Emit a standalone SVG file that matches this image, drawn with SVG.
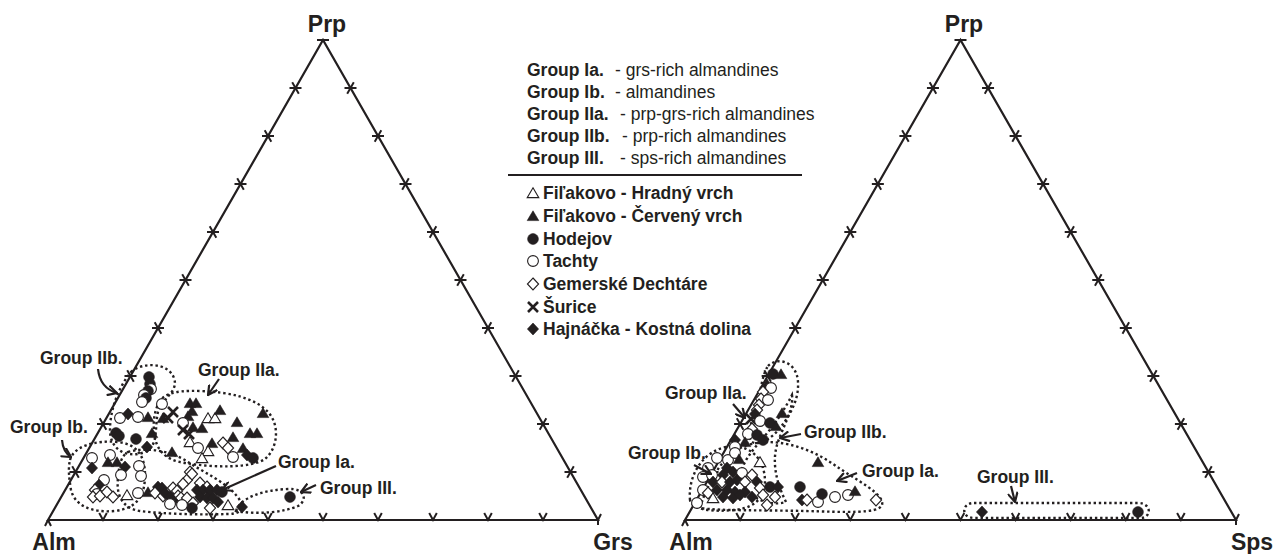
<svg xmlns="http://www.w3.org/2000/svg" width="1277" height="554" viewBox="0 0 1277 554">
<style>
text{font-family:"Liberation Sans",Arial,sans-serif;fill:#231f20}
.b{font-weight:bold;font-size:17.5px}
.r{font-size:17.5px}
.ax{font-weight:bold;font-size:23px;text-anchor:middle}
.edge{stroke:#231f20;stroke-width:2.2;fill:none;stroke-linejoin:miter}
.tk{stroke:#231f20;stroke-width:2;fill:none}
.loop{stroke:#231f20;stroke-width:2.4;fill:none;stroke-dasharray:2.4 2.8}
.arr{stroke:#231f20;stroke-width:2.2;fill:none;marker-end:url(#ah)}
.o{fill:#fff;stroke:#231f20;stroke-width:1.1}
.f{fill:#231f20;stroke:#231f20;stroke-width:0.6}
.x{stroke:#231f20;stroke-width:2.6;fill:none}
</style>
<defs>
<marker id="ah" viewBox="0 0 10 10" refX="9" refY="5" markerWidth="11" markerHeight="11" markerUnits="userSpaceOnUse" orient="auto">
<path d="M0.5,0.5 L9,5 L0.5,9.5" fill="none" stroke="#231f20" stroke-width="2"/>
</marker>
<path id="tkL" class="tk" d="M-6,0 H6 M-3.3,-5.7 L3.3,5.7"/>
<path id="tkR" class="tk" d="M-6,0 H6 M3.3,-5.7 L-3.3,5.7"/>
<path id="tkB" class="tk" d="M-3.8,-7 L0,0 L3.8,-7"/>
<path id="tO" class="o" d="M0,-5.2 L5.8,4.6 L-5.8,4.6 Z"/>
<path id="tF" class="f" d="M0,-5.2 L5.8,4.6 L-5.8,4.6 Z"/>
<circle id="cO" class="o" r="5.4"/>
<circle id="cF" class="f" r="5.4"/>
<path id="dO" class="o" d="M0,-6 L5.6,0 L0,6 L-5.6,0 Z"/>
<path id="dF" class="f" d="M0,-6 L5.6,0 L0,6 L-5.6,0 Z"/>
<path id="xX" class="x" d="M-5,-5 L5,5 M5,-5 L-5,5"/>
</defs>

<g id="triangle-left">
<path class="edge" d="M48,520 L323,40 L598,520 Z"/>
<path class="tk" d="M317,40 H329 M48,520 L45,526 M48,520 L51,526 M598,520 L601,514 M598,520 V525"/>
<use href="#tkL" x="75.5" y="472"/><use href="#tkL" x="103" y="424"/><use href="#tkL" x="130.5" y="376"/><use href="#tkL" x="158" y="328"/><use href="#tkL" x="185.5" y="280"/><use href="#tkL" x="213" y="232"/><use href="#tkL" x="240.5" y="184"/><use href="#tkL" x="268" y="136"/><use href="#tkL" x="295.5" y="88"/>
<use href="#tkR" x="570.5" y="472"/><use href="#tkR" x="543" y="424"/><use href="#tkR" x="515.5" y="376"/><use href="#tkR" x="488" y="328"/><use href="#tkR" x="460.5" y="280"/><use href="#tkR" x="433" y="232"/><use href="#tkR" x="405.5" y="184"/><use href="#tkR" x="378" y="136"/><use href="#tkR" x="350.5" y="88"/>
<use href="#tkB" x="103" y="520"/><use href="#tkB" x="158" y="520"/><use href="#tkB" x="213" y="520"/><use href="#tkB" x="268" y="520"/><use href="#tkB" x="323" y="520"/><use href="#tkB" x="378" y="520"/><use href="#tkB" x="433" y="520"/><use href="#tkB" x="488" y="520"/><use href="#tkB" x="543" y="520"/>
<text class="ax" x="327" y="32">Prp</text>
<text class="ax" x="54" y="550">Alm</text>
<text class="ax" x="613" y="550">Grs</text>
</g>

<g id="triangle-right">
<path class="edge" d="M685,520 L960.5,40 L1236,520 Z"/>
<path class="tk" d="M954.5,40 H966.5 M685,520 L682,526 M685,520 L688,526 M1236,520 L1239,514 M1236,520 V525"/>
<use href="#tkL" x="712.55" y="472"/><use href="#tkL" x="740.1" y="424"/><use href="#tkL" x="767.65" y="376"/><use href="#tkL" x="795.2" y="328"/><use href="#tkL" x="822.75" y="280"/><use href="#tkL" x="850.3" y="232"/><use href="#tkL" x="877.85" y="184"/><use href="#tkL" x="905.4" y="136"/><use href="#tkL" x="932.95" y="88"/>
<use href="#tkR" x="1208.45" y="472"/><use href="#tkR" x="1180.9" y="424"/><use href="#tkR" x="1153.35" y="376"/><use href="#tkR" x="1125.8" y="328"/><use href="#tkR" x="1098.25" y="280"/><use href="#tkR" x="1070.7" y="232"/><use href="#tkR" x="1043.15" y="184"/><use href="#tkR" x="1015.6" y="136"/><use href="#tkR" x="988.05" y="88"/>
<use href="#tkB" x="740.1" y="520"/><use href="#tkB" x="795.2" y="520"/><use href="#tkB" x="850.3" y="520"/><use href="#tkB" x="905.4" y="520"/><use href="#tkB" x="960.5" y="520"/><use href="#tkB" x="1015.6" y="520"/><use href="#tkB" x="1070.7" y="520"/><use href="#tkB" x="1125.8" y="520"/><use href="#tkB" x="1180.9" y="520"/>
<text class="ax" x="964" y="32">Prp</text>
<text class="ax" x="691" y="550">Alm</text>
<text class="ax" x="1252" y="550">Sps</text>
</g>

<g id="legend">
<text x="527" y="76"><tspan class="b">Group Ia.</tspan></text><text class="r" x="615" y="76">- grs-rich almandines</text>
<text x="527" y="98"><tspan class="b">Group Ib.</tspan></text><text class="r" x="615" y="98">- almandines</text>
<text x="527" y="120"><tspan class="b">Group IIa.</tspan></text><text class="r" x="620" y="120">- prp-grs-rich almandines</text>
<text x="527" y="142"><tspan class="b">Group IIb.</tspan></text><text class="r" x="622" y="142">- prp-rich almandines</text>
<text x="527" y="164"><tspan class="b">Group III.</tspan></text><text class="r" x="620" y="164">- sps-rich almandines</text>
<line x1="508" y1="175" x2="802" y2="175" stroke="#231f20" stroke-width="2.2"/>
<use href="#tO" x="533" y="193"/><text class="b" x="543" y="199">Fiľakovo - Hradný vrch</text>
<use href="#tF" x="533" y="216"/><text class="b" x="543" y="222">Fiľakovo - Červený vrch</text>
<use href="#cF" x="533" y="239"/><text class="b" x="543" y="245">Hodejov</text>
<use href="#cO" x="533" y="261"/><text class="b" x="543" y="267">Tachty</text>
<use href="#dO" x="533" y="284"/><text class="b" x="543" y="290">Gemerské Dechtáre</text>
<use href="#xX" x="533" y="307"/><text class="b" x="543" y="313">Šurice</text>
<use href="#dF" x="533" y="329"/><text class="b" x="543" y="335">Hajnáčka - Kostná dolina</text>
</g>

<g id="loops-left">
<path class="loop" d="M131,372 C142,362 168,362 174,378 C179,392 162,398 158,412 C154,428 160,448 142,453 C124,458 110,448 110,430 C110,410 118,388 131,372 Z"/>
<path class="loop" d="M157,407 C160,395 172,390 200,391 C230,392 255,398 268,412 C280,425 278,448 265,459 C252,468 215,468 185,463 C165,460 155,450 154,430 C153,420 155,412 157,407 Z"/>
<path class="loop" d="M70,460 C74,446 95,440 118,442 C136,444 145,455 145,475 C145,495 138,508 115,511 C92,513 75,506 71,490 C69,478 68,468 70,460 Z"/>
<path class="loop" d="M128,452 C145,447 170,450 188,462 C205,473 225,482 236,495 C245,505 244,514 228,514 C200,515 165,514 140,511 C122,508 116,495 118,478 C119,465 121,456 128,452 Z"/>
<path class="loop" d="M236,511 C240,498 262,490 288,489 C305,488 308,500 298,506 C285,512 258,515 236,511 Z"/>
</g>

<g id="points-left">
<use href="#cF" x="149" y="377"/><use href="#cF" x="150" y="384"/><use href="#cO" x="151" y="389"/><use href="#cF" x="148" y="391"/><use href="#cO" x="144" y="395"/><use href="#cF" x="146" y="398"/><use href="#cO" x="142" y="402"/>
<use href="#cO" x="120" y="418"/><use href="#dF" x="128" y="414"/><use href="#cO" x="138" y="417"/><use href="#tF" x="148" y="417"/>
<use href="#cF" x="116" y="433"/><use href="#cF" x="119" y="436"/><use href="#cF" x="136" y="439"/>
<use href="#dF" x="147" y="447"/><use href="#tF" x="152" y="433"/>
<use href="#cO" x="162" y="404"/><use href="#tF" x="163" y="418"/><use href="#xX" x="173" y="412"/><use href="#xX" x="168" y="418"/>
<use href="#tF" x="190" y="403"/><use href="#tF" x="196" y="403"/><use href="#tF" x="192" y="411"/><use href="#tF" x="188" y="416"/>
<use href="#cO" x="183" y="423"/><use href="#tF" x="193" y="427"/><use href="#xX" x="183" y="430"/><use href="#xX" x="189" y="434"/>
<use href="#tO" x="208" y="418"/><use href="#tO" x="215" y="418"/><use href="#tF" x="220" y="410"/><use href="#tF" x="202" y="428"/>
<use href="#tF" x="237" y="422"/><use href="#tF" x="233" y="437"/><use href="#tF" x="250" y="433"/><use href="#tF" x="257" y="433"/><use href="#tF" x="263" y="413"/>
<use href="#tO" x="190" y="442"/><use href="#tF" x="212" y="443"/><use href="#cO" x="198" y="448"/><use href="#tO" x="208" y="451"/><use href="#tO" x="202" y="458"/>
<use href="#dO" x="223" y="443"/><use href="#dO" x="228" y="448"/><use href="#cO" x="233" y="457"/><use href="#tF" x="243" y="448"/><use href="#dF" x="247" y="455"/><use href="#cF" x="253" y="458"/>
<use href="#tF" x="172" y="452"/>
<use href="#cO" x="92" y="458"/><use href="#dF" x="92" y="468"/><use href="#cO" x="110" y="455"/><use href="#tF" x="108" y="462"/><use href="#tF" x="117" y="462"/>
<use href="#dF" x="125" y="467"/><use href="#cO" x="139" y="466"/><use href="#cO" x="141" y="476"/><use href="#cO" x="121" y="475"/>
<use href="#cO" x="104" y="480"/><use href="#dF" x="99" y="485"/>
<use href="#dO" x="95" y="490"/><use href="#cO" x="97" y="494"/><use href="#dO" x="93" y="497"/><use href="#dO" x="100" y="496"/><use href="#dO" x="107" y="492"/><use href="#dO" x="113" y="497"/>
<use href="#tO" x="127" y="495"/><use href="#cO" x="138" y="493"/><use href="#tF" x="148" y="492"/><use href="#dF" x="158" y="487"/><use href="#dO" x="155" y="493"/><use href="#dO" x="163" y="496"/>
<use href="#dO" x="187" y="480"/><use href="#dO" x="190" y="472"/><use href="#dO" x="192" y="474"/><use href="#dO" x="183" y="484"/><use href="#dO" x="200" y="483"/><use href="#dO" x="207" y="487"/>
<use href="#dF" x="162" y="488"/><use href="#dF" x="165" y="493"/><use href="#dO" x="173" y="488"/><use href="#dO" x="177" y="491"/><use href="#dO" x="178" y="496"/><use href="#dF" x="170" y="497"/><use href="#dO" x="181" y="498"/><use href="#dF" x="173" y="501"/>
<use href="#dF" x="197" y="490"/><use href="#dF" x="203" y="490"/><use href="#dF" x="210" y="490"/><use href="#dF" x="217" y="490"/><use href="#cF" x="222" y="492"/>
<use href="#dF" x="200" y="497"/><use href="#dF" x="207" y="498"/><use href="#dF" x="213" y="498"/><use href="#dF" x="218" y="502"/>
<use href="#dO" x="187" y="498"/><use href="#dO" x="193" y="503"/><use href="#cF" x="192" y="508"/><use href="#dO" x="210" y="508"/><use href="#tO" x="228" y="505"/><use href="#cO" x="182" y="505"/><use href="#cO" x="170" y="504"/>
<use href="#dF" x="242" y="507"/><use href="#cF" x="290" y="497"/>
</g>

<g id="loops-right">
<path class="loop" d="M768,366 C778,356 797,362 798,382 C799,400 790,415 780,428 C772,438 760,446 752,442 C746,436 752,420 757,405 C761,390 762,375 768,366 Z"/>
<path class="loop" d="M792,395 C794,410 782,428 777,445 C772,462 776,482 786,502 C770,507 748,498 742,482 C737,465 755,448 768,432 C778,420 787,405 792,395 Z"/>
<path class="loop" d="M690,500 C688,478 700,455 722,448 C742,442 760,452 764,472 C768,492 760,507 735,510 C712,512 692,510 690,500 Z"/>
<path class="loop" d="M745,446 C772,436 808,446 836,466 C856,480 885,494 882,505 C879,514 845,512 805,511 C765,510 720,511 700,508 C705,490 720,455 745,446 Z"/>
<path class="loop" d="M974,503 H1138 C1152,503 1152,518 1140,518 H974 C961,518 961,503 974,503 Z"/>
</g>

<g id="points-right">
<use href="#cF" x="773" y="374"/><use href="#tF" x="781" y="374"/><use href="#tF" x="767" y="384"/><use href="#cO" x="771" y="388"/>
<use href="#dO" x="763" y="392"/><use href="#dO" x="761" y="399"/><use href="#cO" x="768" y="400"/><use href="#dO" x="759" y="405"/><use href="#dO" x="757" y="410"/>
<use href="#tF" x="782" y="413"/><use href="#dF" x="755" y="414"/><use href="#xX" x="751" y="419"/><use href="#cO" x="760" y="421"/><use href="#cF" x="770" y="423"/><use href="#tF" x="776" y="426"/>
<use href="#dO" x="752" y="429"/><use href="#cO" x="748" y="434"/><use href="#cF" x="757" y="435"/><use href="#tF" x="745" y="442"/><use href="#dF" x="735" y="440"/><use href="#cF" x="763" y="440"/><use href="#cO" x="735" y="447"/>
<use href="#cO" x="717" y="458"/><use href="#cO" x="728" y="460"/><use href="#cO" x="735" y="453"/><use href="#tF" x="739" y="459"/><use href="#tF" x="818" y="462"/><use href="#tO" x="760" y="462"/>
<use href="#cO" x="708" y="468"/><use href="#cO" x="703" y="477"/><use href="#cO" x="712" y="475"/><use href="#dF" x="727" y="468"/><use href="#dF" x="733" y="472"/><use href="#dF" x="723" y="475"/><use href="#cO" x="742" y="473"/><use href="#dO" x="752" y="475"/>
<use href="#dF" x="713" y="482"/><use href="#dO" x="722" y="482"/><use href="#dF" x="730" y="482"/><use href="#dF" x="737" y="480"/><use href="#dO" x="745" y="482"/><use href="#dF" x="757" y="482"/><use href="#dO" x="760" y="488"/>
<use href="#cO" x="703" y="490"/><use href="#dO" x="708" y="493"/><use href="#dF" x="717" y="490"/><use href="#dF" x="727" y="490"/><use href="#dF" x="735" y="492"/><use href="#dF" x="745" y="492"/>
<use href="#cF" x="770" y="487"/><use href="#dF" x="778" y="487"/><use href="#cF" x="800" y="487"/>
<use href="#tO" x="713" y="498"/><use href="#dF" x="723" y="497"/><use href="#dF" x="733" y="498"/><use href="#dF" x="740" y="495"/><use href="#dF" x="752" y="497"/><use href="#dO" x="763" y="495"/><use href="#dO" x="775" y="497"/>
<use href="#cO" x="697" y="503"/><use href="#dO" x="767" y="505"/><use href="#dF" x="802" y="500"/><use href="#dO" x="807" y="500"/><use href="#cO" x="818" y="502"/>
<use href="#cF" x="822" y="494"/><use href="#cO" x="835" y="497"/><use href="#cO" x="848" y="495"/><use href="#tF" x="855" y="491"/><use href="#dO" x="876" y="500"/>
<use href="#dF" x="982" y="512"/><use href="#cF" x="1138" y="512"/>
</g>

<g id="labels">
<text class="b" x="40" y="364">Group IIb.</text>
<text class="b" x="198" y="376">Group IIa.</text>
<text class="b" x="10" y="433">Group Ib.</text>
<text class="b" x="278" y="468">Group Ia.</text>
<text class="b" x="320" y="494">Group III.</text>
<text class="b" x="665" y="399">Group IIa.</text>
<text class="b" x="804" y="438">Group IIb.</text>
<text class="b" x="628" y="459">Group Ib.</text>
<text class="b" x="862" y="477">Group Ia.</text>
<text class="b" x="977" y="483">Group III.</text>
</g>

<g id="connectors">
<path class="arr" d="M98,369 Q100,388 117,393"/>
<path class="arr" d="M62,440 Q63,452 71,457"/>
<path class="arr" d="M219,379 L208,395"/>
<path class="arr" d="M276,466 L222,490"/>
<path class="arr" d="M316,485 L301,492"/>
<path class="arr" d="M733,404 L745,418"/>
<path class="arr" d="M801,434 L780,438"/>
<path class="arr" d="M694,465 L711,474"/>
<path class="arr" d="M857,473 L837,481"/>
<path class="arr" d="M1011,486 L1015,502"/>
</g>
</svg>
